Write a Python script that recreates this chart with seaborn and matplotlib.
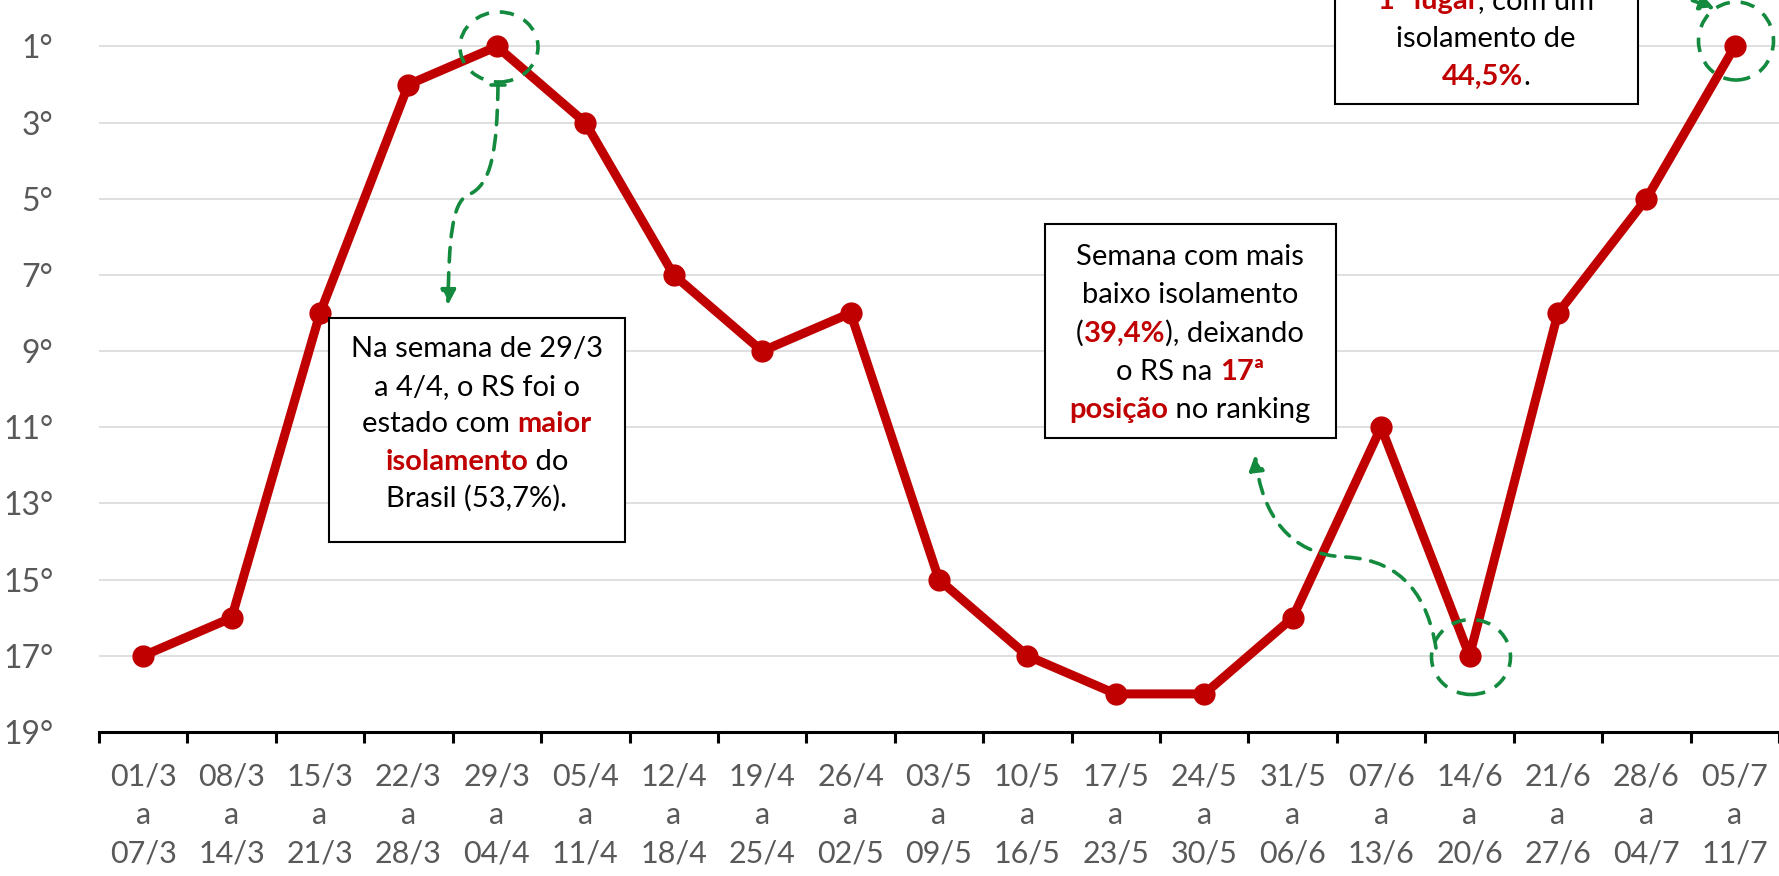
import matplotlib
matplotlib.use("Agg")
import matplotlib.pyplot as plt
import seaborn as sns
import pandas as pd
from matplotlib.patches import Ellipse, Rectangle, FancyArrowPatch
from matplotlib.path import Path

# data
weeks = ["01/3\na\n07/3", "08/3\na\n14/3", "15/3\na\n21/3", "22/3\na\n28/3",
         "29/3\na\n04/4", "05/4\na\n11/4", "12/4\na\n18/4", "19/4\na\n25/4",
         "26/4\na\n02/5", "03/5\na\n09/5", "10/5\na\n16/5", "17/5\na\n23/5",
         "24/5\na\n30/5", "31/5\na\n06/6", "07/6\na\n13/6", "14/6\na\n20/6",
         "21/6\na\n27/6", "28/6\na\n04/7", "05/7\na\n11/7"]
ranking = [17, 16, 8, 2, 1, 3, 7, 9, 8, 15, 17, 18, 18, 16, 11, 17, 8, 5, 1]
yticks = [1, 3, 5, 7, 9, 11, 13, 15, 17, 19]

RED = "#C00000"
GREEN = "#138A3E"
GRAY = "#595959"
W, H = 1779, 876

sns.set_style("white")
plt.rcParams["font.family"] = ["Lato", "DejaVu Sans"]

df = pd.DataFrame({"idx": range(len(weeks)), "rank": ranking})

fig = plt.figure(figsize=(W / 100, H / 100), dpi=100)
ax = fig.add_axes([99 / W, (H - 732) / H, 1680 / W, (732 + 29.7) / H])

sns.lineplot(data=df, x="idx", y="rank", ax=ax, color=RED, linewidth=6.5,
             marker="o", markersize=16, markeredgewidth=0, zorder=3)

ax.set_xlim(-0.5, len(weeks) - 0.5)
ax.set_ylim(19, -1)
ax.set_yticks(yticks)
ax.set_yticklabels([f"{v}°" for v in yticks], fontsize=23, color=GRAY)
ax.set_xticks(range(len(weeks)))
ax.set_xticklabels(weeks, fontsize=22, color=GRAY, linespacing=1.45)
ax.set_xticks([i - 0.5 for i in range(len(weeks) + 1)], minor=True)
ax.tick_params(axis="x", which="major", length=0, pad=22)
ax.tick_params(axis="x", which="minor", bottom=True, length=8, width=2.2,
               color="black", direction="out")
ax.tick_params(axis="y", length=0, pad=33)
ax.set_xlabel("")
ax.set_ylabel("")
for s in ["left", "right", "top"]:
    ax.spines[s].set_visible(False)
ax.spines["bottom"].set_linewidth(2.2)
ax.spines["bottom"].set_color("black")
ax.yaxis.grid(True, color="#D9D9D9", linewidth=1.2)
ax.set_axisbelow(True)


def fx(x):
    return x / W


def fy(y):
    return 1 - y / H


renderer = fig.canvas.get_renderer()


def text_width(s, fs, weight):
    t = fig.text(0, 0, "|" + s + "|", fontsize=fs, weight=weight)
    t2 = fig.text(0, 0, "||", fontsize=fs, weight=weight)
    w = t.get_window_extent(renderer).width - t2.get_window_extent(renderer).width
    t.remove()
    t2.remove()
    return w


def rich_line(cx, base_y, parts, fs=21):
    widths = [text_width(s, fs, wt) for s, c, wt in parts]
    x = cx - sum(widths) / 2
    for (s, c, wt), w in zip(parts, widths):
        fig.text(fx(x), fy(base_y), s, fontsize=fs, color=c, weight=wt,
                 ha="left", va="baseline", zorder=6)
        x += w


def box(x0, y0, x1, y1):
    fig.add_artist(Rectangle((fx(x0), fy(y1)), fx(x1) - fx(x0), fy(y0) - fy(y1),
                             transform=fig.transFigure, facecolor="white",
                             edgecolor="black", linewidth=1.5, zorder=5))


def ring(cx, cy, w, h):
    fig.add_artist(Ellipse((fx(cx), fy(cy)), w / W, h / H, transform=fig.transFigure,
                           fill=False, edgecolor=GREEN, linewidth=2.6,
                           linestyle=(0, (4, 3)), zorder=7))


def curve_arrow(pts):
    codes = [Path.MOVETO] + [Path.CURVE4] * (len(pts) - 1)
    verts = [(fx(x), fy(y)) for x, y in pts]
    fig.add_artist(FancyArrowPatch(path=Path(verts, codes), arrowstyle="-|>",
                                   mutation_scale=22, color=GREEN, linewidth=2.6,
                                   linestyle=(0, (4, 3)), transform=fig.transFigure,
                                   zorder=7))


K = ("black", "normal")
R = (RED, "bold")

# box 1
box(329, 318, 625, 542)
cx1 = 477
rich_line(cx1, 357, [("Na semana de 29/3", *K)])
rich_line(cx1, 395, [("a 4/4, o RS foi o", *K)])
rich_line(cx1, 432, [("estado com ", *K), ("maior", *R)])
rich_line(cx1, 470, [("isolamento", *R), (" do", *K)])
rich_line(cx1, 507, [("Brasil (53,7%).", *K)])

# box 2
box(1045, 224, 1336, 438)
cx2 = 1190
rich_line(cx2, 265, [("Semana com mais", *K)])
rich_line(cx2, 303, [("baixo isolamento", *K)])
rich_line(cx2, 342, [("(", *K), ("39,4%", *R), ("), deixando", *K)])
rich_line(cx2, 380, [("o RS na ", *K), ("17ª", *R)])
rich_line(cx2, 418, [("posição", *R), (" no ranking", *K)])

# box 3 (partly above the figure, as in the original)
box(1335, -120, 1638, 104)
cx3 = 1486
rich_line(cx3, 9, [("1º lugar", *R), (", com um", *K)])
rich_line(cx3, 47, [("isolamento de", *K)])
rich_line(cx3, 85, [("44,5%", *R), (".", *K)])

# rings
ring(499, 47, 78, 70)
ring(1471, 657, 79, 75)
ring(1736, 41, 75, 78)

# arrows
curve_arrow([(498, 85), (497, 150), (492, 185), (468, 195),
             (452, 202), (449, 240), (448, 305)])
fig.add_artist(plt.Line2D([fx(491), fx(505)], [fy(85), fy(85)], color=GREEN,
                          linewidth=2.6, transform=fig.transFigure, zorder=7))
curve_arrow([(1436, 648), (1428, 600), (1405, 560), (1345, 557),
             (1290, 555), (1262, 515), (1255, 455)])
curve_arrow([(1668, -6), (1688, -2), (1700, 3), (1715, 9)])

fig.savefig("out.png", dpi=100)
